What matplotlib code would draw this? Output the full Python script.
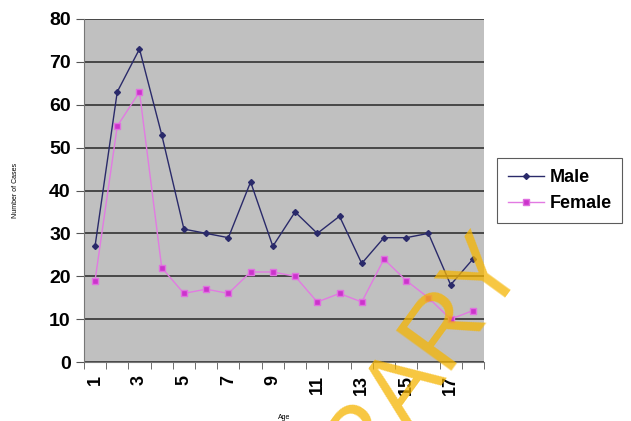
import numpy as np
import matplotlib.pyplot as plt

plt.rcParams['font.family'] = ['Liberation Sans', 'DejaVu Sans']

# Cases by age
ages = list(range(1, 19))
male = [27, 63, 73, 53, 31, 30, 29, 42, 27, 35, 30, 34, 23, 29, 29, 30, 18, 24]
female = [19, 55, 63, 22, 16, 17, 16, 21, 21, 20, 14, 16, 14, 24, 19, 15, 10, 12]
tick_labels = [str(a) for a in ages[::2]]

fig = plt.figure(figsize=(6.31, 4.21), dpi=100)
ax = fig.add_axes([0.133, 0.140, 0.634, 0.815])
ax.set_facecolor('#c0c0c0')

ax.plot(ages, male, color='#2a2a6a', lw=1, marker='D', ms=3, label='Male')
ax.plot(ages, female, color='#e27ae2', lw=1, marker='s', ms=4,
        markerfacecolor='#cc33cc', markeredgecolor='#e070e0', label='Female')

ax.set_xlim(0.5, 18.5)
ax.set_ylim(0, 80)
ax.set_yticks(np.arange(0, 81, 10))
ax.yaxis.grid(True, color='#333333', lw=1.2)
ax.set_axisbelow(True)

ax.set_xticks(ages[::2])
ax.set_xticklabels(tick_labels, rotation=90, fontsize=13, fontweight='bold')
ax.set_xticks(np.arange(0.5, 19, 1), minor=True)
ax.tick_params(axis='x', which='major', length=0, pad=9)
ax.tick_params(axis='x', which='minor', length=5, color='#555555')
ax.tick_params(axis='y', labelsize=14, length=6, color='#555555')
for lbl in ax.get_yticklabels():
    lbl.set_fontweight('bold')

for side in ['top', 'right']:
    ax.spines[side].set_visible(False)
ax.spines['left'].set_color('#777777')
ax.spines['bottom'].set_color('#777777')

ax.set_xlabel('Age', fontsize=5, labelpad=14)
ax.set_ylabel('Number of Cases', fontsize=5, labelpad=22)

leg = ax.legend(loc='center left', bbox_to_anchor=(1.01, 0.50), frameon=True,
                fancybox=False, edgecolor='#333333', handlelength=2.0,
                handletextpad=0.3, prop={'weight': 'bold', 'size': 13},
                borderpad=0.6, labelspacing=0.5)
leg.get_frame().set_linewidth(0.8)

# watermark
fig.text(0.80, 0.42, 'LIBRARY', rotation=54, rotation_mode='anchor',
         fontsize=72, color='#f5b400', alpha=0.75, ha='right', va='center')

fig.savefig('out.png', dpi=100)
